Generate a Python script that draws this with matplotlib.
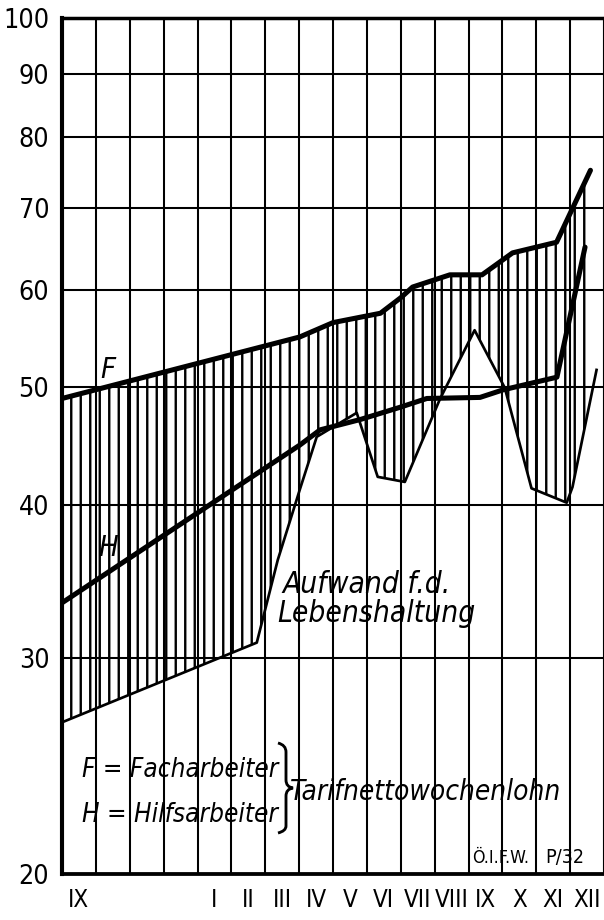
import matplotlib; matplotlib.use('Agg')
import numpy as np
import matplotlib.pyplot as plt
from matplotlib.path import Path
from matplotlib.patches import PathPatch
from matplotlib import font_manager
from matplotlib.ticker import NullLocator

# month slots: IX of the first year .. XII of the second year (16 months)
month_labels = ['IX', '', '', '', 'I', 'II', 'III', 'IV', 'V', 'VI',
                'VII', 'VIII', 'IX', 'X', 'XI', 'XII']
y_ticks = [20, 30, 40, 50, 60, 70, 80, 90, 100]

# F = Facharbeiter (x in months from the left edge)
f_x = [0, 7.02, 8.0, 9.4, 10.0, 10.35, 11.45, 12.4, 13.3, 14.6, 15.6]
f_y = [48.9, 54.9, 56.4, 57.4, 59.1, 60.3, 61.7, 61.7, 64.3, 65.6, 75.1]

# H = Hilfsarbeiter
h_x = [0, 7.02, 7.62, 8.8, 9.98, 10.77, 12.34, 13.02, 14.61, 15.44]
h_y = [33.3, 44.8, 46.1, 47.0, 48.1, 48.9, 49.0, 49.7, 50.9, 65.0]

# Aufwand f.d. Lebenshaltung
a_x = [0, 5.75, 6.37, 7.02, 7.52, 8.70, 9.32, 10.12, 11.15, 12.18,
       13.07, 13.86, 14.90, 15.07, 15.78]
a_y = [26.6, 30.9, 36.1, 41.2, 45.5, 47.6, 42.2, 41.8, 48.8, 55.6,
       49.9, 41.3, 40.2, 41.4, 51.6]

names = {f.name for f in font_manager.fontManager.ttflist}
if 'Liberation Sans Narrow' in names:
    fam, stretch, k = ['Liberation Sans Narrow', 'DejaVu Sans'], 'normal', 1.0
else:
    fam, stretch, k = ['DejaVu Sans'], 'condensed', 0.8
plt.rcParams['font.family'] = fam
plt.rcParams['hatch.linewidth'] = 1.5

W, H = 604, 920
dpi = 114
fig = plt.figure(figsize=(W / dpi, H / dpi), dpi=dpi)
ax = fig.add_axes([62 / W, 46 / H, 542 / W, 856 / H])

# hatch between F and the cost-of-living line
xs = np.union1d(f_x, a_x)
xs = xs[xs <= f_x[-1]]
fy = 10 ** np.interp(xs, f_x, np.log10(f_y))
ay = 10 ** np.interp(xs, a_x, np.log10(a_y))
ax.fill_between(xs, fy, ay, facecolor='none', edgecolor='black',
                hatch='||', linewidth=0, zorder=1)

ax.plot(a_x, a_y, color='black', lw=1.7, solid_joinstyle='round', zorder=3)
ax.plot(h_x, h_y, color='black', lw=3.2, solid_joinstyle='round',
        solid_capstyle='round', zorder=4)
ax.plot(f_x, f_y, color='black', lw=3.2, solid_joinstyle='round',
        solid_capstyle='round', zorder=4)

ax.set_yscale('log')
ax.set_ylim(20, 100)
ax.set_xlim(0, 16)
ax.yaxis.set_minor_locator(NullLocator())
ax.set_yticks(y_ticks, [str(v) for v in y_ticks])
ax.set_xticks(range(17), [''] * 17)
ax.set_xticks(np.arange(16) + 0.5, month_labels, minor=True)
ax.grid(True, which='major', color='black', lw=1.3, zorder=0)
ax.tick_params(which='both', length=0)
ax.tick_params(axis='y', pad=8, labelsize=21 * k)
ax.tick_params(axis='x', which='minor', pad=9, labelsize=19 * k)
for lab in ax.get_yticklabels() + ax.get_xticklabels(minor=True):
    lab.set_fontstretch(stretch)
for side, lw in [('left', 2.6), ('bottom', 2.4), ('top', 2.2), ('right', 1.3)]:
    ax.spines[side].set_linewidth(lw)

it = dict(style='italic', fontstretch=stretch, color='black')
ax.text(1.36, 51.6, 'F', size=23 * k, ha='center', va='center', **it)
ax.text(1.36, 36.9, 'H', size=23 * k, ha='center', va='center', **it)
ax.text(6.52, 33.9, 'Aufwand f.d.', size=23.5 * k, ha='left', va='baseline', **it)
ax.text(6.35, 32.1, 'Lebenshaltung', size=23.5 * k, ha='left', va='baseline', **it)
ax.text(0.59, 24.0, 'F = Facharbeiter', size=20.5 * k, ha='left', va='baseline', **it)
ax.text(0.59, 22.05, 'H = Hilfsarbeiter', size=20.5 * k, ha='left', va='baseline', **it)
ax.text(6.73, 22.98, 'Tarifnettowochenlohn', size=22 * k, ha='left', va='baseline', **it)
ax.text(12.1, 20.4, 'Ö.I.F.W.', size=14 * k, ha='left', va='baseline',
        fontstretch=stretch)
ax.text(14.26, 20.4, 'P/32', size=15.5 * k, ha='left', va='baseline',
        fontstretch=stretch)

# curly brace joining the two legend lines (figure pixel coords)
def px(x, y):
    return (x / W, 1 - y / H)

verts = [px(278, 743), px(286, 745), px(286, 752),
         px(286, 780), px(286, 787), px(293, 788),
         px(286, 789), px(286, 796),
         px(286, 826), px(286, 831), px(278, 833)]
codes = [Path.MOVETO, Path.CURVE3, Path.CURVE3,
         Path.LINETO, Path.CURVE3, Path.CURVE3,
         Path.CURVE3, Path.CURVE3,
         Path.LINETO, Path.CURVE3, Path.CURVE3]
fig.add_artist(PathPatch(Path(verts, codes), facecolor='none', edgecolor='black',
                         lw=1.8, transform=fig.transFigure))

fig.savefig('out.png', dpi=dpi)
